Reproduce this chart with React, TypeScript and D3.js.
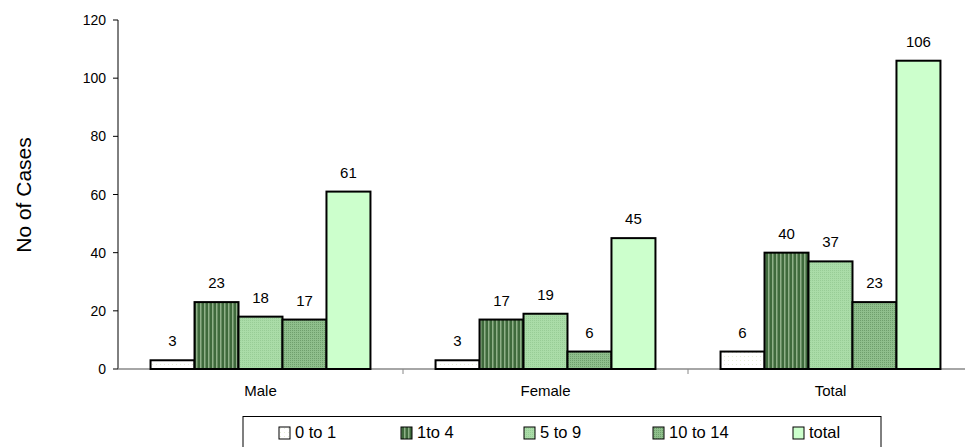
import * as d3 from 'd3';

const groups = ['Male', 'Female', 'Total'];
const series = ['0 to 1', '1to 4', '5 to 9', '10 to 14', 'total'];
const values = [
  [3, 23, 18, 17, 61],
  [3, 17, 19, 6, 45],
  [6, 40, 37, 23, 106],
];
const yTicks = [0, 20, 40, 60, 80, 100, 120];
const fills = ['url(#p0)', 'url(#p1)', 'url(#p2)', 'url(#p3)', '#ccffcc'];

const W = 965, H = 447;
const left = 118, right = 973, top = 20, bottom = 369;

export default function App() {
  const x0 = d3.scaleBand().domain(groups).range([left, right]);
  const x1 = d3.scaleBand().domain(series).range([0, x0.bandwidth()]).paddingOuter(0.74).paddingInner(0);
  const y = d3.scaleLinear().domain([0, 120]).range([bottom, top]);
  const font = 'Arial, "Liberation Sans", sans-serif';
  const legX = [279, 401, 524, 653, 793];
  return (
    <svg width={W} height={H} style={{ position: 'absolute', left: 0, top: 0 }} fontFamily={font}>
      <defs>
        <pattern id="p0" width="4" height="4" patternUnits="userSpaceOnUse">
          <rect width="4" height="4" fill="#ffffff" />
          <rect width="1" height="1" fill="#e6eed8" />
        </pattern>
        <pattern id="p1" width="4" height="4" patternUnits="userSpaceOnUse">
          <rect width="4" height="4" fill="#3f6a3c" />
          <rect width="1.5" height="4" fill="#8fb088" />
        </pattern>
        <pattern id="p2" width="2" height="2" patternUnits="userSpaceOnUse">
          <rect width="2" height="2" fill="#aadca8" />
          <rect width="1" height="1" fill="#98cc96" />
        </pattern>
        <pattern id="p3" width="2" height="2" patternUnits="userSpaceOnUse">
          <rect width="2" height="2" fill="#8fbf8c" />
          <rect width="1" height="1" fill="#6f9f6c" />
        </pattern>
      </defs>
      <line x1={left} x2={left} y1={top} y2={bottom} stroke="#000" />
      <line x1={left} x2={right} y1={bottom} y2={bottom} stroke="#888" strokeWidth={1.5} />
      {yTicks.map((t) => (
        <g key={t}>
          <line x1={left - 5} x2={left} y1={y(t)} y2={y(t)} stroke="#000" />
          <text x={left - 12} y={y(t) + 5} fontSize={14} textAnchor="end">{t}</text>
        </g>
      ))}
      {groups.map((g, i) => (
        <g key={g}>
          {i > 0 && <line x1={x0(g)!} x2={x0(g)!} y1={bottom} y2={bottom + 5} stroke="#888" />}
          <text x={x0(g)! + x0.bandwidth() / 2} y={bottom + 27} fontSize={15} textAnchor="middle">{g}</text>
          {series.map((s, j) => {
            const bx = x0(g)! + x1(s)!;
            const v = values[i][j];
            return (
              <g key={s}>
                <rect x={bx} y={y(v)} width={x1.bandwidth()} height={bottom - y(v)} fill={fills[j]} stroke="#000" strokeWidth={2} />
                <text x={bx + x1.bandwidth() / 2} y={y(v) - 14} fontSize={15} textAnchor="middle">{v}</text>
              </g>
            );
          })}
        </g>
      ))}
      <text transform={`translate(31,195) rotate(-90)`} fontSize={21} textAnchor="middle">No of Cases</text>
      <rect x={243} y={416.5} width={638} height={34} fill="#fff" stroke="#000" />
      {series.map((s, j) => (
        <g key={s}>
          <rect x={legX[j]} y={427} width={11} height={12} fill={fills[j]} stroke="#000" />
          <text x={legX[j] + 16} y={438} fontSize={16.5}>{s}</text>
        </g>
      ))}
    </svg>
  );
}
